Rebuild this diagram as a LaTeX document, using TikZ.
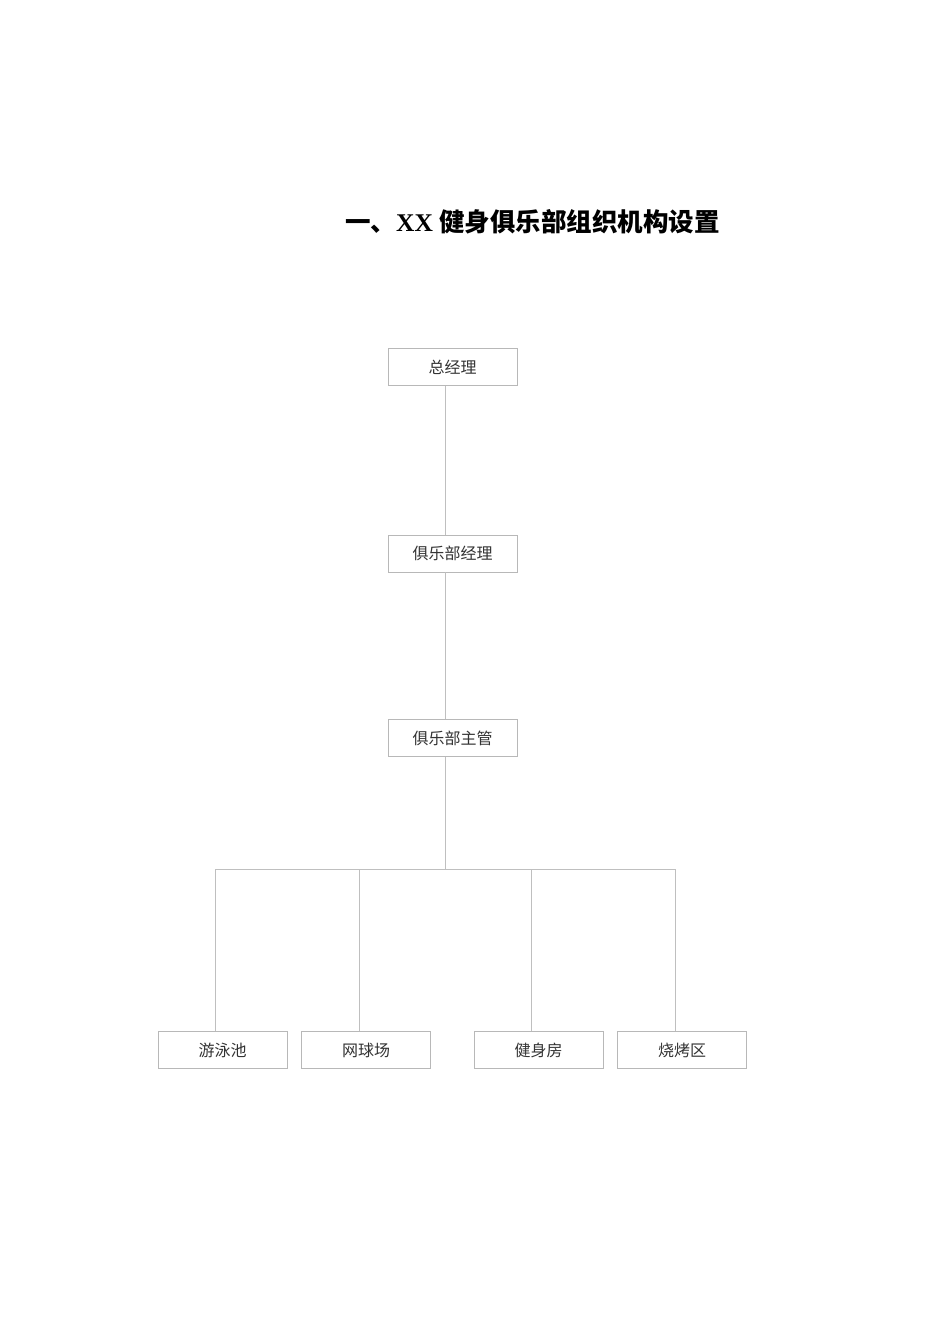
\documentclass[tikz,border=0pt]{standalone}
\usepackage{fontspec}
\setmainfont{Liberation Serif}
\newfontfamily\cjk{Noto Sans CJK SC}
\begin{document}
\begin{tikzpicture}[x=1pt,y=-1pt,
  orgbox/.style={draw=black!28,line width=0.8pt,minimum width=129pt,minimum height=37pt,inner sep=0pt,
    font=\cjk\fontsize{16}{16}\selectfont,text=black!80},
  link/.style={draw=black!25,line width=0.8pt}]
\useasboundingbox[fill=white] (0,0) rectangle (950,1344);
\node[anchor=west,inner sep=0pt,font=\fontsize{25.5}{25.5}\selectfont\bfseries] (title) at (345,222)
  {{\cjk\bfseries 一、}XX\hspace{6pt}{\cjk\bfseries 健身俱乐部组织机构设置}};
\node[orgbox] (gm) at (452.5,367) {总经理};
\node[orgbox] (cm) at (452.5,553.5) {俱乐部经理};
\node[orgbox] (sup) at (452.5,738) {俱乐部主管};
\node[orgbox] (swim) at (222.5,1050) {游泳池};
\node[orgbox] (tennis) at (366,1050) {网球场};
\node[orgbox] (gym) at (538.5,1050) {健身房};
\node[orgbox] (bbq) at (682,1050) {烧烤区};
\coordinate (j) at (445,869);
\draw[link] (gm.south -| j) -- (cm.north -| j);
\draw[link] (cm.south -| j) -- (sup.north -| j);
\draw[link] (sup.south -| j) -- (j);
\draw[link] (swim.north -| 215.5,0) |- (j);
\draw[link] (j) -| (bbq.north -| 675,0);
\draw[link] (tennis.north -| 359,0) -- (359,869);
\draw[link] (gym.north -| 531.5,0) -- (531.5,869);
\end{tikzpicture}
\end{document}
